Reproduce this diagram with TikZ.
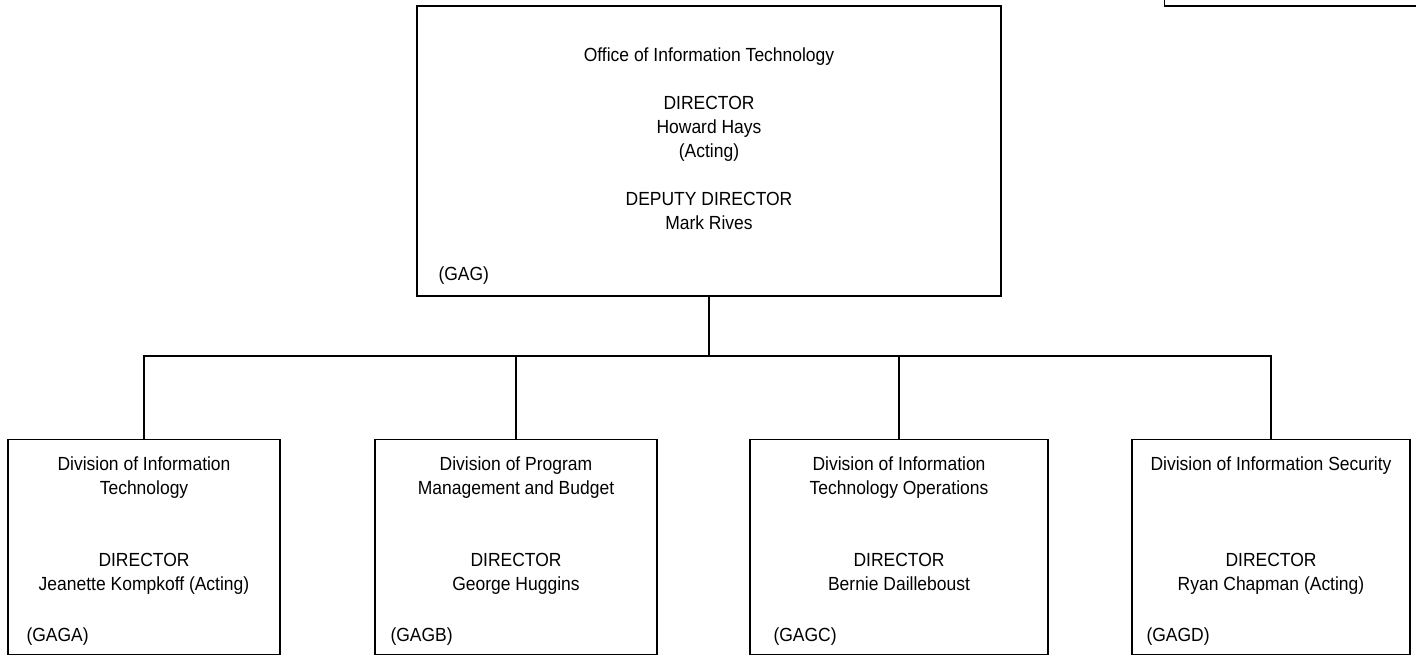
\documentclass[tikz,border=0pt]{standalone}
\usepackage{fontspec}
\setmainfont[FakeStretch=0.92]{Liberation Sans}
\usetikzlibrary{positioning}

\begin{document}
\begin{tikzpicture}[x=1pt, y=-1pt,
        office/.style={rectangle, draw, line width=1.3pt, minimum width=584pt, minimum height=290pt, inner sep=0pt},
        division/.style={rectangle, draw, line width=1.3pt, minimum height=215pt, inner sep=0pt},
        label/.style={inner sep=0pt, align=center, font=\fontsize{19}{24}\selectfont},
        code/.style={inner sep=0pt, anchor=base west, font=\fontsize{19}{24}\selectfont},
        link/.style={line width=1.3pt}]

    \useasboundingbox (0,0) rectangle (1416,657);

    % Top office
    \node (oit) [office] at (709,151) {};
    \node (oit_text) [label, anchor=north, below=42pt of oit.north] {Office of Information Technology\\ \\DIRECTOR\\Howard Hays\\(Acting)\\ \\DEPUTY DIRECTOR\\Mark Rives};
    \node (oit_code) [code, xshift=22pt, yshift=16pt] at (oit.south west) {(GAG)};

    % Divisions
    \node (diva) [division, minimum width=272pt] at (144,547) {};
    \node (divb) [division, minimum width=282pt] at (516,547) {};
    \node (divc) [division, minimum width=298pt] at (899,547) {};
    \node (divd) [division, minimum width=278pt] at (1271,547) {};

    \node (diva_text) [label, anchor=north, below=18pt of diva.north] {Division of Information\\Technology\\ \\ \\DIRECTOR\\Jeanette Kompkoff (Acting)};
    \node (divb_text) [label, anchor=north, below=18pt of divb.north] {Division of Program\\Management and Budget\\ \\ \\DIRECTOR\\George Huggins};
    \node (divc_text) [label, anchor=north, below=18pt of divc.north] {Division of Information\\Technology Operations\\ \\ \\DIRECTOR\\Bernie Dailleboust};
    \node (divd_text) [label, anchor=north, below=18pt of divd.north] {Division of Information Security\\ \\ \\ \\DIRECTOR\\Ryan Chapman (Acting)};

    \node (diva_code) [code, xshift=19pt, yshift=14pt] at (diva.south west) {(GAGA)};
    \node (divb_code) [code, xshift=16pt, yshift=14pt] at (divb.south west) {(GAGB)};
    \node (divc_code) [code, xshift=24pt, yshift=14pt] at (divc.south west) {(GAGC)};
    \node (divd_code) [code, xshift=15pt, yshift=14pt] at (divd.south west) {(GAGD)};

    % Connectors
    \coordinate (bus) at (709,356);
    \draw [link] (oit.south) -- (bus);
    \foreach \d in {diva, divb, divc, divd}
        \draw [link] (bus) -| (\d.north);

    % Box cut off at the top right
    \node (corner) [rectangle, draw, line width=1.3pt, minimum width=255pt, minimum height=20pt, inner sep=0pt] at (1292,-4) {};

\end{tikzpicture}
\end{document}
